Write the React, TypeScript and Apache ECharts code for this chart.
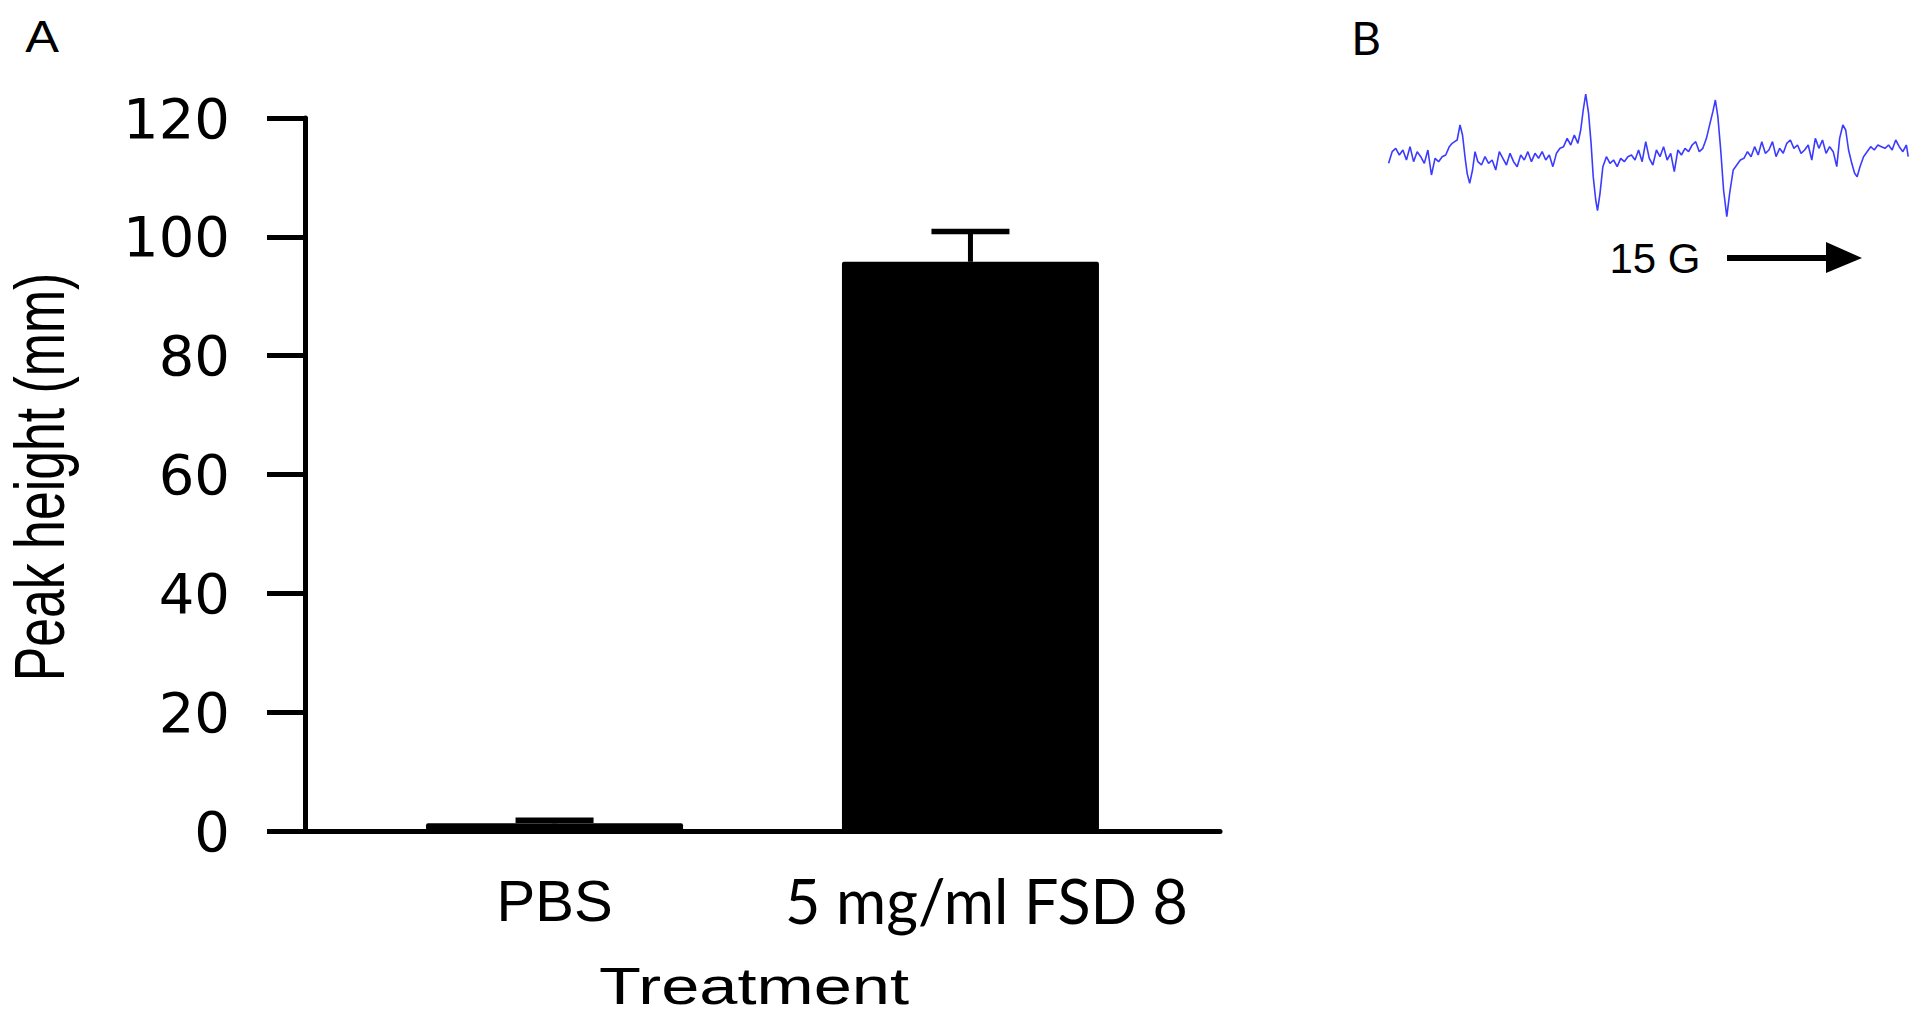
import React, { useEffect, useRef } from "react";
import * as echarts from "echarts";

// Panel A data
const categories = ["PBS", "5 mg/ml FSD 8"];
const categoryPos = [1, 2];
const peakHeight = [1.3, 95.8];
const peakError = [0.5, 5.1];
const yMin = 0;
const yMax = 120;
const yInterval = 20;

// Panel B: ESR trace (field position, arbitrary units; signal, arbitrary units)
const esrField = [
  80, 90, 100, 110, 120, 130, 140, 150, 160, 170, 180, 190, 200, 210, 220, 230, 240, 250, 258, 265,
  272, 280, 287, 295, 300, 307, 315, 322, 330, 340, 350, 360, 370, 380, 390, 400, 410, 420, 430, 440,
  450, 460, 470, 480, 490, 500, 510, 520, 530, 540, 550, 560, 570, 580, 590, 600, 610, 618, 625, 632,
  640, 647, 653, 660, 665, 672, 680, 690, 700, 710, 720, 730, 740, 750, 760, 770, 780, 790, 800, 810,
  820, 830, 840, 850, 860, 870, 880, 890, 900, 910, 920, 930, 940, 950, 960, 970, 980, 988, 995, 1002,
  1010, 1018, 1027, 1035, 1045, 1055, 1065, 1075, 1085, 1095, 1105, 1115, 1125, 1135, 1145, 1155, 1165, 1175, 1185, 1195,
  1205, 1215, 1225, 1235, 1245, 1255, 1265, 1275, 1285, 1295, 1305, 1315, 1325, 1335, 1343, 1352, 1360, 1368, 1377, 1385,
  1392, 1400, 1410, 1420, 1430, 1440, 1450, 1460, 1470, 1480, 1490, 1500, 1510, 1520, 1530, 1535,
];
const esrSignal = [
  -30, 5, 15, -5, 10, -20, 20, -25, 5, -10, -30, 10, -65, -15, -25, -10, -5, 20, 30, 35,
  40, 85, 55, -20, -60, -90, -50, 5, -25, -35, -10, -30, -20, -50, 5, -15, -35, 0, -25, -40,
  -5, -20, 5, -25, 0, -15, 5, -20, -5, -40, 0, 15, 20, 45, 25, 55, 30, 70, 130, 178,
  120, 30, -70, -140, -172, -120, -40, -10, -30, -20, -40, -15, -25, -10, -5, -20, 10, -25, 35, -15,
  -35, 10, -10, 20, -20, 0, -55, 10, -5, 15, 5, 25, 35, 5, 15, 45, 90, 125, 160, 110,
  10, -110, -190, -120, -50, -35, -20, -15, 5, -10, 20, -5, 35, 0, 10, 35, -10, 15, 0, 30,
  40, 15, 25, 0, 10, 25, -20, 45, 15, 40, 0, 20, 5, -40, 45, 85, 70, 10, -30, -60,
  -70, -40, -10, 5, 20, 10, 25, 20, 15, 25, 10, 40, 20, 5, 25, -10,
];

const ARIAL = "'Liberation Sans', Arial, Helvetica, sans-serif";
const WIDE = "'DejaVu Sans', 'Liberation Sans', sans-serif";
const CALIBRI = "Lato, 'Open Sans', sans-serif";

export default function App() {
  const ref = useRef<HTMLDivElement>(null);

  useEffect(() => {
    if (!ref.current) return;
    const chart = echarts.init(ref.current, undefined, { renderer: "svg" });

    const barData = categoryPos.map((x, i) => [x, peakHeight[i]]);
    const errData = categoryPos.map((x, i) => [x, peakHeight[i], peakError[i]]);
    const esrData = esrField.map((x, i) => [x, esrSignal[i]]);

    const option: any = {
      animation: false,
      backgroundColor: "#ffffff",
      grid: [
        { left: 305, right: 700, top: 118, bottom: 192, containLabel: false },
        { left: 1388.6, right: 11.8, top: 80, bottom: 803, containLabel: false },
      ],
      xAxis: [
        {
          type: "value",
          gridIndex: 0,
          min: 0.4,
          max: 2.6,
          splitLine: { show: false },
          axisTick: { show: false },
          axisLine: { show: true, onZero: false, lineStyle: { color: "#000", width: 5 } },
          axisLabel: {
            customValues: categoryPos,
            margin: 34,
            formatter: (v: number) => {
              const idx = Math.round(v) - 1;
              return idx === 0 ? `{a|${categories[0]}}` : `{b|${categories[1]}}`;
            },
            rich: {
              a: { fontFamily: ARIAL, fontSize: 58, color: "#000", lineHeight: 70 },
              b: {
                fontFamily: CALIBRI,
                fontSize: 61,
                color: "#000",
                lineHeight: 70,
                padding: [0, 0, 0, 32],
              },
            },
          },
        },
        {
          type: "value",
          gridIndex: 1,
          min: 80,
          max: 1535,
          show: false,
          splitLine: { show: false },
        },
      ],
      yAxis: [
        {
          type: "value",
          gridIndex: 0,
          min: yMin,
          max: yMax,
          interval: yInterval,
          splitLine: { show: false },
          axisLine: { show: true, lineStyle: { color: "#000", width: 5 } },
          axisTick: { show: true, inside: false, length: 38, lineStyle: { color: "#000", width: 5 } },
          axisLabel: {
            margin: 75,
            fontFamily: WIDE,
            fontSize: 56,
            color: "#000",
          },
        },
        {
          type: "value",
          gridIndex: 1,
          min: -200,
          max: 220,
          show: false,
          splitLine: { show: false },
        },
      ],
      series: [
        {
          type: "bar",
          xAxisIndex: 0,
          yAxisIndex: 0,
          data: barData,
          barWidth: 257,
          itemStyle: { color: "#000", borderRadius: [2, 2, 0, 0] },
          z: 2,
        },
        {
          type: "custom",
          xAxisIndex: 0,
          yAxisIndex: 0,
          data: errData,
          z: 3,
          renderItem: (params: any, api: any) => {
            const x = api.value(0);
            const y = api.value(1);
            const e = api.value(2);
            const top = api.coord([x, y + e]);
            const base = api.coord([x, y]);
            return {
              type: "group",
              children: [
                {
                  type: "line",
                  shape: { x1: top[0], y1: top[1], x2: base[0], y2: base[1] },
                  style: { stroke: "#000", lineWidth: 5 },
                },
                {
                  type: "line",
                  shape: { x1: top[0] - 39, y1: top[1], x2: top[0] + 39, y2: top[1] },
                  style: { stroke: "#000", lineWidth: 5.5 },
                },
              ],
            };
          },
        },
        {
          type: "line",
          xAxisIndex: 1,
          yAxisIndex: 1,
          data: esrData,
          showSymbol: false,
          symbol: "none",
          lineStyle: { color: "#3b3bff", width: 1.6 },
        },
      ],
      graphic: [
        {
          type: "text",
          x: 42,
          y: 37,
          scaleX: 1.15,
          style: {
            text: "A",
            fontFamily: ARIAL,
            fontSize: 44,
            fill: "#000",
            align: "center",
            verticalAlign: "middle",
            textAlign: "center",
            textVerticalAlign: "middle",
          },
        },
        {
          type: "text",
          x: 1366,
          y: 37,
          style: {
            text: "B",
            fontFamily: CALIBRI,
            fontSize: 46,
            fill: "#000",
            align: "center",
            verticalAlign: "middle",
            textAlign: "center",
            textVerticalAlign: "middle",
          },
        },
        {
          type: "text",
          x: 40,
          y: 477,
          rotation: Math.PI / 2,
          scaleX: 0.74,
          style: {
            text: "Peak height (mm)",
            fontFamily: ARIAL,
            fontSize: 70,
            fill: "#000",
            align: "center",
            verticalAlign: "middle",
            textAlign: "center",
            textVerticalAlign: "middle",
          },
        },
        {
          type: "text",
          x: 754,
          y: 986,
          scaleX: 1.32,
          style: {
            text: "Treatment",
            fontFamily: ARIAL,
            fontSize: 52,
            fill: "#000",
            align: "center",
            verticalAlign: "middle",
            textAlign: "center",
            textVerticalAlign: "middle",
          },
        },
        {
          type: "text",
          x: 1655,
          y: 258,
          style: {
            text: "15 G",
            fontFamily: ARIAL,
            fontSize: 42,
            fill: "#000",
            align: "center",
            verticalAlign: "middle",
            textAlign: "center",
            textVerticalAlign: "middle",
          },
        },
        {
          type: "line",
          shape: { x1: 1727, y1: 258, x2: 1830, y2: 258 },
          style: { stroke: "#000", lineWidth: 6 },
        },
        {
          type: "polygon",
          shape: { points: [[1826, 242], [1862, 258], [1826, 273]] },
          style: { fill: "#000" },
        },
      ],
    };

    chart.setOption(option);
    return () => chart.dispose();
  }, []);

  return (
    <div
      ref={ref}
      style={{ position: "fixed", left: 0, top: 0, width: 1920, height: 1023, background: "#fff" }}
    />
  );
}
